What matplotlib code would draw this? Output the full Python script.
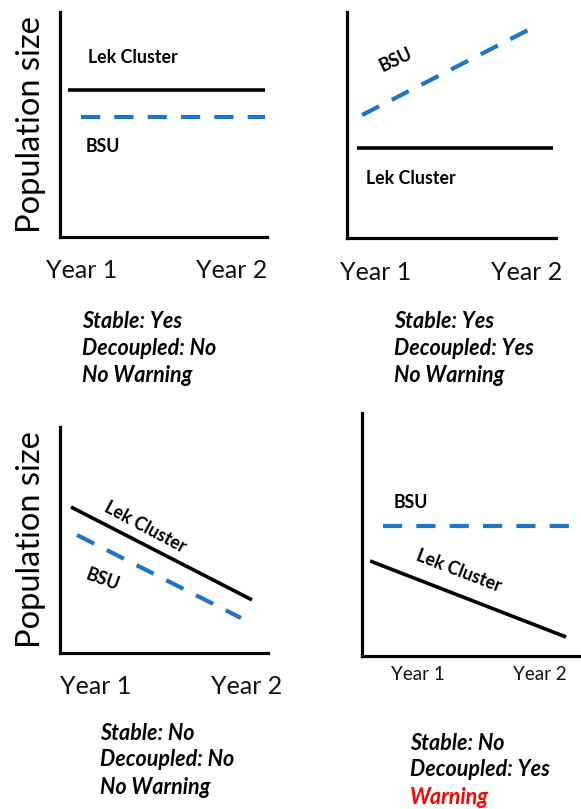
import matplotlib
matplotlib.use("Agg")
import matplotlib.pyplot as plt

plt.rcParams['font.family'] = ['Lato', 'DejaVu Sans']

# -----データ-----
# 各パネル: Year 1 -> Year 2 の概念的な個体数 (0-1 の相対値)
lek_x = [[0.04, 0.99], [0.048, 0.986], [0.053, 0.923], [0.037, 0.932]]
lek_y = [[0.653, 0.653], [0.398, 0.398], [0.646, 0.235], [0.391, 0.078]]
bsu_x = [[0.10, 0.99], [0.072, 0.866], [0.082, 0.870], [0.096, 1.0]]
bsu_y = [[0.533, 0.533], [0.544, 0.920], [0.522, 0.155], [0.535, 0.535]]

year_labels = ["Year 1", "Year 2"]
year_pos = [[0.106, 0.83], [0.139, 0.861], [0.173, 0.899], [0.256, 0.813]]

stable = ["Yes", "Yes", "No", "No"]
decoupled = ["No", "Yes", "No", "Yes"]
warning = ["No Warning", "No Warning", "No Warning", "Warning"]
# ----------------

W, H = 581, 809
fig = plt.figure(figsize=(W / 100, H / 100), dpi=100)

# 軸の位置 (ピクセル): x0, x1, ytop, ybot
frames = [(60, 267, 12, 237), (347, 556, 12, 238),
          (60, 268, 427, 653), (362, 581, 413, 656)]

# ラベル位置: (x, y, rotation, ha)
lek_lab = [(0.135, 0.80, 0, "left"), (0.091, 0.265, 0, "left"),
           (0.409, 0.558, -28, "center"), (0.443, 0.350, -21, "center")]
bsu_lab = [(0.125, 0.40, 0, "left"), (0.234, 0.788, 25, "center"),
           (0.207, 0.323, -20, "center"), (0.146, 0.630, 0, "left")]

# キャプション (ピクセル): x, 1行目の y
captions = [(82, 321), (394, 321), (100, 733), (410, 743)]
year_y = [270, 272, 686, 674]
year_fs = [18, 18, 18, 13.5]

blue = "#1f74c6"

for i in range(4):
    x0, x1, yt, yb = frames[i]
    ax = fig.add_axes([x0 / W, 1 - yb / H, (x1 - x0) / W, (yb - yt) / H])
    ax.set_xlim(0, 1)
    ax.set_ylim(0, 1)
    ax.patch.set_alpha(0)

    ax.plot(lek_x[i], lek_y[i], color="black", lw=2.6, solid_capstyle="butt",
            clip_on=False)
    ax.plot(bsu_x[i], bsu_y[i], color=blue, lw=3, linestyle=(0, (4.6, 3.4)),
            clip_on=False)

    lx, ly, lr, lha = lek_lab[i]
    ax.text(lx, ly, "Lek Cluster", fontsize=12.8, fontweight="bold", rotation=lr,
            ha=lha, va="center", rotation_mode="anchor", transform=ax.transAxes)
    bx, by, br, bha = bsu_lab[i]
    ax.text(bx, by, "BSU", fontsize=12.8, fontweight="bold", rotation=br,
            ha=bha, va="center", rotation_mode="anchor", transform=ax.transAxes)

    for s in ["top", "right"]:
        ax.spines[s].set_visible(False)
    for s in ["left", "bottom"]:
        ax.spines[s].set_linewidth(2.3)
        ax.spines[s].set_color("black")
    ax.set_yticks([])
    ax.set_xticks(year_pos[i])
    pad_px = year_y[i] - yb - year_fs[i] * 1.39 * 0.45
    ax.set_xticklabels(year_labels, fontsize=year_fs[i], color="#111111")
    ax.tick_params(axis="x", length=0, pad=pad_px * 0.72)

    if i in (0, 2):
        ax.set_ylabel("Population size", fontsize=23.5, labelpad=10)

    cx, cy = captions[i]
    lines = ["Stable: " + stable[i], "Decoupled: " + decoupled[i], warning[i]]
    for k, t in enumerate(lines):
        col = "red" if t == "Warning" else "black"
        fig.text(cx / W, 1 - (cy + k * 27) / H, t, fontsize=15.5,
                 fontweight="bold", fontstyle="italic", color=col,
                 ha="left", va="center")

fig.savefig("out.png", dpi=100)
